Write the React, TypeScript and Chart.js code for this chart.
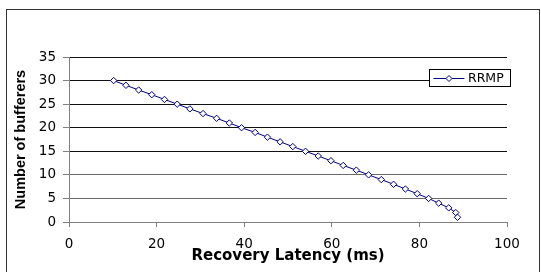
import { useEffect, useRef } from "react";
import { Chart, registerables } from "chart.js";

Chart.register(...registerables);

const seriesLabel = "RRMP";
const latencyMs = [
  10.2, 13.0, 15.9, 18.9, 21.8, 24.7, 27.6, 30.6, 33.7, 36.6,
  39.4, 42.5, 45.3, 48.2, 51.1, 54.0, 56.9, 59.8, 62.6, 65.6,
  68.4, 71.3, 74.1, 76.8, 79.5, 82.1, 84.4, 86.7, 88.3, 88.7,
];
const bufferers = [
  30, 29, 28, 27, 26, 25, 24, 23, 22, 21,
  20, 19, 18, 17, 16, 15, 14, 13, 12, 11,
  10, 9, 8, 7, 6, 5, 4, 3, 2, 1,
];
const xRange = [0, 100];
const xStep = 20;
const yRange = [0, 35];
const yStep = 5;
const xTitle = "Recovery Latency (ms)";
const yTitle = "Number of bufferers";

const NAVY = "#000080";

const framePlugin = {
  id: "frame",
  beforeDraw(chart: any) {
    const ctx = chart.ctx;
    ctx.save();
    ctx.fillStyle = "#ffffff";
    ctx.fillRect(0, 0, chart.width, chart.height);
    ctx.strokeStyle = "#333333";
    ctx.lineWidth = 1;
    ctx.strokeRect(6.5, 9.5, 533, 320);
    ctx.restore();
  },
};

const boxLegendPlugin = {
  id: "boxLegend",
  afterDraw(chart: any) {
    const ctx = chart.ctx;
    const ds = chart.data.datasets[0];
    const area = chart.chartArea;
    const x0 = area.right - 77.5;
    const y0 = area.top + 12.5;
    const w = 81;
    const h = 17;
    ctx.save();
    ctx.fillStyle = "#ffffff";
    ctx.fillRect(x0, y0, w, h);
    ctx.strokeStyle = "#000000";
    ctx.lineWidth = 1;
    ctx.strokeRect(x0, y0, w, h);
    const cy = Math.round(y0 + h / 2) + 0.5;
    ctx.strokeStyle = ds.borderColor;
    ctx.beginPath();
    ctx.moveTo(x0 + 4, cy);
    ctx.lineTo(x0 + 35, cy);
    ctx.stroke();
    const mx = x0 + 19.5;
    const r = 3;
    ctx.fillStyle = "#ffffff";
    ctx.strokeStyle = ds.pointBorderColor;
    ctx.beginPath();
    ctx.moveTo(mx, cy - r);
    ctx.lineTo(mx + r, cy);
    ctx.lineTo(mx, cy + r);
    ctx.lineTo(mx - r, cy);
    ctx.closePath();
    ctx.fill();
    ctx.stroke();
    ctx.fillStyle = "#000000";
    ctx.font = "12.5px 'DejaVu Sans'";
    ctx.textBaseline = "middle";
    ctx.textAlign = "left";
    ctx.fillText(ds.label, x0 + 38.5, cy);
    ctx.restore();
  },
};

export default function App() {
  const ref = useRef<HTMLCanvasElement | null>(null);

  useEffect(() => {
    document.body.style.margin = "0";
    const canvas = ref.current;
    if (!canvas) return;
    const chart = new Chart(canvas, {
      type: "line",
      data: {
        datasets: [
          {
            label: seriesLabel,
            data: latencyMs.map((x, i) => ({ x, y: bufferers[i] })),
            borderColor: NAVY,
            borderWidth: 1,
            pointStyle: "rectRot",
            pointRadius: 3.2,
            pointBorderWidth: 1,
            pointBorderColor: NAVY,
            pointBackgroundColor: "#ffffff",
            tension: 0,
          },
        ],
      },
      options: {
        responsive: false,
        animation: false,
        layout: { padding: { left: 0, top: 57, right: 34, bottom: 0 } },
        plugins: {
          legend: { display: false },
          tooltip: { enabled: false },
        },
        scales: {
          x: {
            type: "linear",
            min: xRange[0],
            max: xRange[1],
            afterFit(scale: any) {
              scale.height = 50;
            },
            ticks: {
              stepSize: xStep,
              color: "#000000",
              padding: 9,
              maxRotation: 0,
              font: { family: "'DejaVu Sans'", size: 13.5 },
            },
            grid: {
              drawOnChartArea: false,
              drawTicks: true,
              tickLength: 5,
              tickColor: "#808080",
            },
            border: { display: true, color: "#808080", width: 1 },
            title: {
              display: true,
              text: xTitle,
              color: "#000000",
              font: { family: "'DejaVu Sans'", size: 15, weight: "bold" },
              padding: { top: 0, bottom: 7 },
            },
          },
          y: {
            type: "linear",
            min: yRange[0],
            max: yRange[1],
            afterFit(scale: any) {
              scale.width = 69;
            },
            ticks: {
              stepSize: yStep,
              color: "#000000",
              padding: 7,
              font: { family: "'DejaVu Sans'", size: 13.5 },
            },
            grid: {
              color: (c: any) =>
                c.tick && c.tick.value === 0
                  ? "#808080"
                  : c.tick && c.tick.value >= 15
                  ? "#111111"
                  : "#6a6a6a",
              drawTicks: true,
              tickLength: 6,
              tickColor: "#808080",
            },
            border: { display: true, color: "#808080", width: 1 },
            title: {
              display: true,
              text: yTitle,
              color: "#000000",
              font: { family: "'Liberation Sans'", size: 14.5, weight: "bold" },
              padding: { top: 12, bottom: 0 },
            },
          },
        },
      },
      plugins: [framePlugin, boxLegendPlugin],
    });
    return () => chart.destroy();
  }, []);

  return (
    <div style={{ width: 541, height: 272 }}>
      <canvas ref={ref} width={541} height={272} style={{ display: "block" }} />
    </div>
  );
}
